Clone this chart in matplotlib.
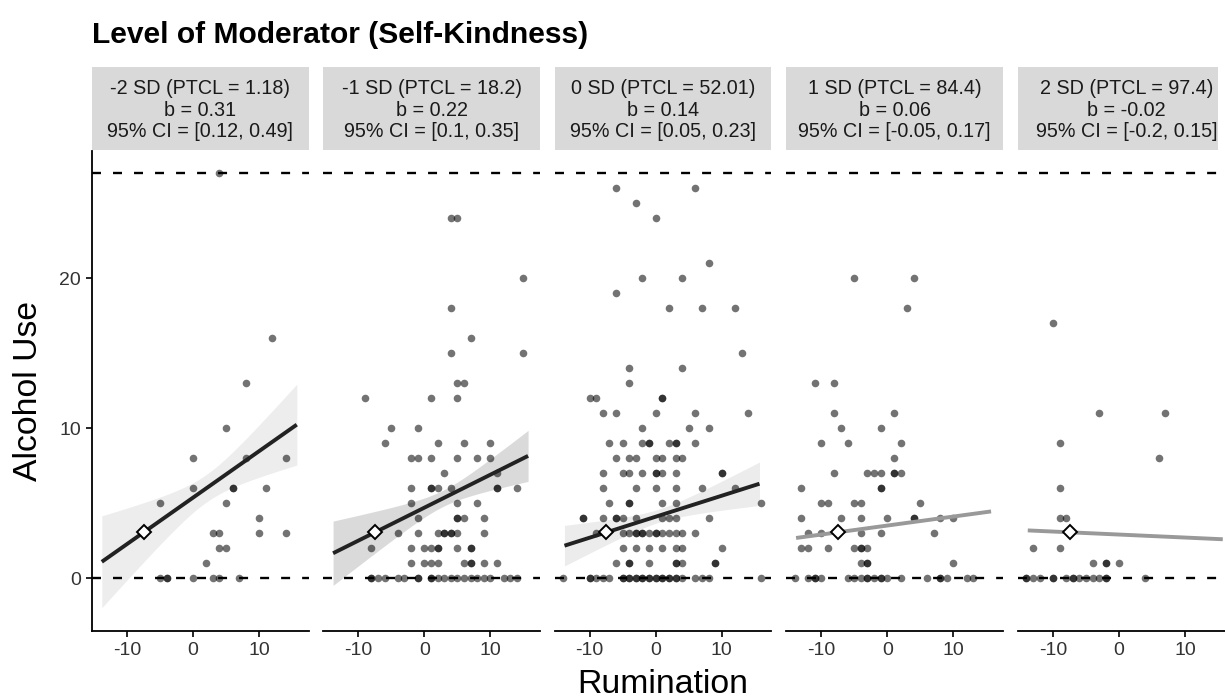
import numpy as np
import matplotlib.pyplot as plt
from matplotlib.patches import Rectangle

plt.rcParams['font.family'] = ['Liberation Sans', 'DejaVu Sans']
plt.rcParams['axes.unicode_minus'] = False

# strip labels
levels = ["-2 SD (PTCL = 1.18)", "-1 SD (PTCL = 18.2)", "0 SD (PTCL = 52.01)",
          "1 SD (PTCL = 84.4)", "2 SD (PTCL = 97.4)"]
slopes = [0.31, 0.22, 0.14, 0.06, -0.02]
ci_low = [0.12, 0.1, 0.05, -0.05, -0.2]
ci_high = [0.49, 0.35, 0.23, 0.17, 0.15]
b_text = ["0.31", "0.22", "0.14", "0.06", "-0.02"]
ci_text = ["[0.12, 0.49]", "[0.1, 0.35]", "[0.05, 0.23]", "[-0.05, 0.17]", "[-0.2, 0.15]"]

# simple slope lines (value at rumination = 0) and CI band shape
intercepts = [5.36, 4.69, 4.09, 3.50, 2.90]
significant = [True, True, True, False, False]
band_center = [2.0, 2.8, 0.4]
band_h0 = [0.92, 0.54, 0.44]
band_colors = ['#ededed', '#dadada', '#ececec']
mean_x, mean_y = -7.45, 3.05
x_start, x_end = -13.8, 15.7

# raw points (rumination, alcohol use) per moderator level
pts_m2 = [(4, 27), (12, 16), (8, 13), (5, 10), (0, 8), (8, 8), (14, 8), (0, 6), (6, 6), (6, 6),
          (11, 6), (-5, 5), (5, 5), (10, 4), (3, 3), (4, 3), (10, 3), (14, 3), (4, 2), (5, 2),
          (2, 1), (-5, 0), (-4, 0), (-4, 0), (0, 0), (3, 0), (4, 0), (7, 0)]

pts_m1 = [(4, 24), (5, 24), (15, 20), (4, 18), (7, 16), (4, 15), (15, 15), (5, 13), (6, 13),
          (-9, 12), (1, 12), (5, 12), (-5, 10), (-1, 10),
          (-6, 9), (2, 9), (6, 9), (10, 9),
          (-2, 8), (-1, 8), (1, 8), (5, 8), (8, 8), (10, 8),
          (3, 7), (11, 7),
          (-2, 6), (1, 6), (1, 6), (2, 6), (4, 6), (11, 6), (11, 6), (14, 6),
          (-2, 5), (5, 5), (8, 5),
          (-1, 4), (5, 4), (5, 4), (6, 4), (9, 4),
          (-4, 3), (-1, 3), (2, 3), (3, 3), (3, 3), (4, 3), (4, 3), (5, 3), (9, 3),
          (-8, 2), (-2, 2), (0, 2), (1, 2), (2, 2), (2, 2), (5, 2), (7, 2), (7, 2),
          (-2, 1), (0, 1), (1, 1), (2, 1), (6, 1), (7, 1), (7, 1), (9, 1), (11, 1),
          (-8, 0), (-8, 0), (-7, 0), (-6, 0), (-4, 0), (-3, 0), (-1, 0), (-1, 0), (1, 0), (1, 0),
          (2, 0), (3, 0), (4, 0), (5, 0), (6, 0), (7, 0), (8, 0), (9, 0), (10, 0), (12, 0),
          (13, 0), (14, 0)]

pts_0 = [(-6, 26), (6, 26), (-3, 25), (0, 24), (8, 21), (-2, 20), (4, 20), (-6, 19), (2, 18),
         (7, 18), (12, 18), (13, 15), (-4, 14), (4, 14), (-4, 13),
         (-10, 12), (-9, 12), (1, 12), (1, 12),
         (-8, 11), (-6, 11), (0, 11), (6, 11), (14, 11),
         (-2, 10), (5, 10), (8, 10),
         (-7, 9), (-5, 9), (-2, 9), (-1, 9), (-1, 9), (2, 9), (3, 9), (3, 9), (6, 9),
         (-6, 8), (-4, 8), (-3, 8), (0, 8), (1, 8), (3, 8), (4, 8),
         (-8, 7), (-5, 7), (-4, 7), (-2, 7), (0, 7), (0, 7), (1, 7), (3, 7), (10, 7), (10, 7),
         (-8, 6), (-3, 6), (0, 6), (3, 6), (7, 6), (12, 6),
         (-7, 5), (-4, 5), (-4, 5), (1, 5), (3, 5), (16, 5),
         (-11, 4), (-11, 4), (-8, 4), (-6, 4), (-6, 4), (-5, 4), (-3, 4), (1, 4), (2, 4), (3, 4), (8, 4),
         (-9, 3), (-5, 3), (-4, 3), (-3, 3), (-3, 3), (-2, 3), (-2, 3), (-1, 3), (0, 3), (0, 3),
         (1, 3), (2, 3), (3, 3), (4, 3), (6, 3),
         (-5, 2), (-3, 2), (-1, 2), (1, 2), (3, 2), (4, 2), (10, 2),
         (-6, 1), (-4, 1), (-4, 1), (-1, 1), (3, 1), (3, 1), (4, 1), (9, 1), (9, 1),
         (-14, 0), (-10, 0), (-10, 0), (-9, 0), (-8, 0), (-7, 0), (-5, 0), (-5, 0), (-4, 0), (-4, 0),
         (-3, 0), (-3, 0), (-2, 0), (-2, 0), (-1, 0), (-1, 0), (0, 0), (0, 0), (1, 0), (1, 0),
         (2, 0), (2, 0), (3, 0), (3, 0), (4, 0), (6, 0), (7, 0), (8, 0), (16, 0)]

pts_p1 = [(-5, 20), (4, 20), (3, 18), (-11, 13), (-8, 13), (-8, 11), (1, 11), (-7, 10), (-1, 10),
          (-10, 9), (-6, 9), (2, 9), (1, 8),
          (-8, 7), (-3, 7), (-2, 7), (-1, 7), (1, 7), (1, 7), (2, 7),
          (-13, 6), (-1, 6), (-1, 6),
          (-10, 5), (-9, 5), (-5, 5), (-4, 5), (5, 5),
          (-13, 4), (-7, 4), (-4, 4), (0, 4), (4, 4), (4, 4), (8, 4), (10, 4),
          (-12, 3), (-10, 3), (-4, 3), (-1, 3), (7, 3),
          (-13, 2), (-12, 2), (-9, 2), (-5, 2), (-4, 2), (-4, 2), (-3, 2),
          (-4, 1), (-3, 1), (-3, 1), (10, 1),
          (-14, 0), (-12, 0), (-11, 0), (-11, 0), (-10, 0), (-6, 0), (-5, 0), (-4, 0), (-3, 0),
          (-3, 0), (-2, 0), (-1, 0), (-1, 0), (0, 0), (2, 0), (6, 0), (8, 0), (8, 0), (9, 0),
          (12, 0), (13, 0)]

pts_p2 = [(-10, 17), (-3, 11), (7, 11), (-9, 9), (6, 8), (-9, 6), (-9, 4), (-8, 4), (-13, 2),
          (-9, 2), (-4, 1), (-2, 1), (-2, 1), (0, 1),
          (-14, 0), (-14, 0), (-13, 0), (-12, 0), (-10, 0), (-10, 0), (-8, 0), (-7, 0), (-7, 0),
          (-6, 0), (-5, 0), (-4, 0), (-3, 0), (-2, 0), (-2, 0), (4, 0)]

panel_points = [pts_m2, pts_m1, pts_0, pts_p1, pts_p2]

W, H = 1225, 698
fig = plt.figure(figsize=(W / 100, H / 100), dpi=100)

zero_px = [193, 424.3, 655.7, 887.3, 1119]
xmin, xmax = -15.3, 17.5
px_per_unit = 6.61
ax_w = (xmax - xmin) * px_per_unit
ax_bottom, ax_h = 67, 480
strip_top, strip_bot = 67, 150

for i in range(5):
    left = zero_px[i] + xmin * px_per_unit
    ax = fig.add_axes([left / W, ax_bottom / H, ax_w / W, ax_h / H])
    ax.set_xlim(xmin, xmax)
    ax.set_ylim(-3.53, 28.47)

    xs = np.linspace(x_start, x_end, 120)
    line_y = intercepts[i] + slopes[i] * xs
    if i < 3:
        sb = (ci_high[i] - ci_low[i]) / 2
        half = np.sqrt(band_h0[i] ** 2 + (sb * (xs - band_center[i])) ** 2)
        ax.fill_between(xs, line_y - half, line_y + half, color=band_colors[i], lw=0, zorder=1)

    p = np.array(panel_points[i])
    ax.scatter(p[:, 0], p[:, 1], s=30, color='black', alpha=0.55, linewidths=0, zorder=2)

    ax.plot(xs, line_y, color='#222222' if significant[i] else '#999999', lw=2.8,
            solid_capstyle='butt', zorder=3)

    for yy in [0, 27]:
        ax.axhline(yy, color='black', lw=1.7, linestyle=(0, (3.8, 5.1)), zorder=4)

    ax.plot([mean_x], [mean_y], marker='D', ms=7.5, mfc='white', mec='black', mew=1.4, zorder=5)

    for s in ['top', 'right']:
        ax.spines[s].set_visible(False)
    ax.spines['bottom'].set_linewidth(1.3)
    ax.set_xticks([-10, 0, 10])
    ax.tick_params(axis='both', labelsize=14, length=4.3, width=1.2, pad=3.5,
                   labelcolor='#333333')
    if i == 0:
        ax.spines['left'].set_linewidth(1.3)
        ax.set_yticks([0, 10, 20])
    else:
        ax.spines['left'].set_visible(False)
        ax.set_yticks([])

    # facet strip
    s_right = min(left + ax_w, 1218)
    fig.patches.append(Rectangle((left / W, (H - strip_bot) / H), (s_right - left) / W,
                                 (strip_bot - strip_top) / H, transform=fig.transFigure,
                                 facecolor='#d9d9d9', edgecolor='none'))
    cx = (left + ax_w / 2) / W
    for txt, base in zip([levels[i], "b = " + b_text[i], "95% CI = " + ci_text[i]],
                         [94.3, 115.7, 137.0]):
        fig.text(cx, (H - base) / H, txt, ha='center', va='baseline', fontsize=14.2,
                 color='#1a1a1a')

fig.text(92 / W, (H - 43) / H, "Level of Moderator (Self-Kindness)", fontsize=21.6,
         fontweight='bold', ha='left', va='baseline')
fig.text(28.5 / W, (H - 391) / H, "Alcohol Use", fontsize=24.3, rotation=90,
         ha='center', va='center')
fig.text(663 / W, 5 / H, "Rumination", fontsize=24.3, ha='center', va='baseline')

fig.savefig('out.png', dpi=100)
